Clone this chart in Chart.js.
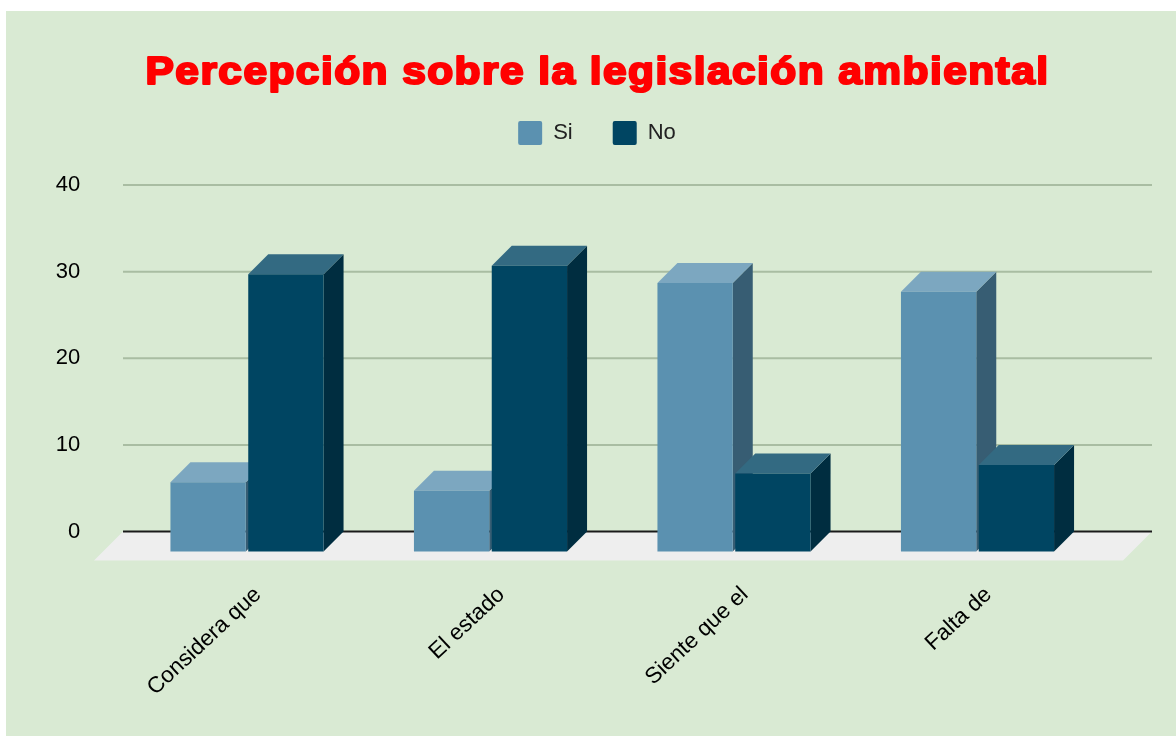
<!DOCTYPE html>
<html>
<head>
<meta charset="utf-8">
<script src="https://cdn.jsdelivr.net/npm/chart.js@4"></script>
<style>
html, body { margin: 0; padding: 0; background: #fff; overflow: hidden; }
#wrap { position: absolute; left: 6px; top: 11px; width: 1170px; height: 725px; background: #d9ead3; }
</style>
</head>
<body>
<div id="wrap"><canvas id="chart" width="1170" height="725"></canvas></div>
<script>
const titleText = 'Percepción sobre la legislación ambiental';
const categories = ['Considera que', 'El estado', 'Siente que el', 'Falta de'];
const si = [8, 7, 31, 30];
const no = [32, 33, 9, 10];
const yTicks = [0, 10, 20, 30, 40];

const depth = 20;
const colors = {
	si: {front: '#5b91b0', top: '#7ca7c0', side: '#375d73'},
	no: {front: '#004562', top: '#336a82', side: '#002d40'},
};
const sides = [colors.si, colors.no];

function poly(ctx, pts, fill) {
	ctx.fillStyle = fill;
	ctx.beginPath();
	pts.forEach((p, i) => i ? ctx.lineTo(p[0], p[1]) : ctx.moveTo(p[0], p[1]));
	ctx.closePath();
	ctx.fill();
}

// floor, grid and the top/side faces of the bars
const box3d = {
	id: 'box3d',
	afterLayout(chart) {
		// centre the legend on the whole canvas, higher than the default slot
		chart.legend.left = 12;
		chart.legend.right = 1170;
		chart.legend.top = 70;
	},
	beforeDatasetsDraw(chart) {
		const ctx = chart.ctx;
		const y = chart.scales.y;
		const y0 = y.getPixelForValue(0);
		ctx.save();
		poly(ctx, [[117, y0], [1146, y0], [1117, y0 + 29], [88, y0 + 29]], '#eeeeee');
		yTicks.forEach((t) => {
			const py = y.getPixelForValue(t);
			ctx.strokeStyle = t === 0 ? '#1a1a1a' : '#a9bda2';
			ctx.lineWidth = 2;
			ctx.beginPath();
			ctx.moveTo(117, py);
			ctx.lineTo(1146, py);
			ctx.stroke();
		});
		// bars sit on the front of the floor
		ctx.translate(0, depth);
		chart.data.datasets.forEach((ds, i) => {
			chart.getDatasetMeta(i).data.forEach((bar) => {
				const l = bar.x - bar.width / 2;
				const r = bar.x + bar.width / 2;
				poly(ctx, [[r, bar.y], [r + depth, bar.y - depth], [r + depth, bar.base - depth], [r, bar.base]], sides[i].side);
				poly(ctx, [[l, bar.y], [l + depth, bar.y - depth], [r + depth, bar.y - depth], [r, bar.y]], sides[i].top);
			});
		});
	},
	afterDatasetsDraw(chart) {
		chart.ctx.restore();
	},
	afterDraw(chart) {
		const ctx = chart.ctx;
		ctx.save();
		ctx.font = 'bold 39px "Liberation Sans"';
		ctx.letterSpacing = '1.3px';
		ctx.textAlign = 'center';
		ctx.textBaseline = 'alphabetic';
		ctx.fillStyle = '#ff0000';
		ctx.strokeStyle = '#ff0000';
		ctx.lineWidth = 2.2;
		ctx.lineJoin = 'round';
		ctx.translate(591.5, 73);
		ctx.scale(1.09, 1);
		ctx.strokeText(titleText, 0, 0);
		ctx.fillText(titleText, 0, 0);
		ctx.restore();
	},
};

const chart = new Chart(document.getElementById('chart'), {
	type: 'bar',
	data: {
		labels: categories,
		datasets: [
			{label: 'Si', data: si, backgroundColor: colors.si.front, clip: false},
			{label: 'No', data: no, backgroundColor: colors.no.front, clip: false},
		],
	},
	plugins: [box3d],
	options: {
		responsive: false,
		animation: false,
		categoryPercentage: 0.639,
		barPercentage: 0.968,
		layout: {padding: {left: 12, right: 76.75, top: 100, bottom: 0}},
		plugins: {
			title: {display: false},
			tooltip: {enabled: false},
			legend: {
				position: 'top',
				labels: {
					boxWidth: 24,
					boxHeight: 24,
					padding: 40,
					color: '#222222',
					useBorderRadius: true,
					borderRadius: 2,
					font: {family: '"Liberation Sans"', size: 22},
				},
			},
		},
		scales: {
			x: {
				grid: {display: false},
				border: {display: false},
				afterFit: (s) => { s.height = 204.5 },
				ticks: {
					autoSkip: false,
					minRotation: 43,
					maxRotation: 43,
					labelOffset: 11,
					padding: 42,
					color: '#000000',
					font: {family: '"Liberation Sans"', size: 22.5},
				},
			},
			y: {
				min: 0,
				max: 40,
				grid: {display: false},
				border: {display: false},
				afterFit: (s) => { s.width = 107.25 },
				afterBuildTicks: (s) => { s.ticks = yTicks.map((v) => ({value: v})) },
				ticks: {
					padding: 37,
					color: '#000000',
					font: {family: '"Liberation Sans"', size: 22},
				},
			},
		},
	},
});
</script>
</body>
</html>
